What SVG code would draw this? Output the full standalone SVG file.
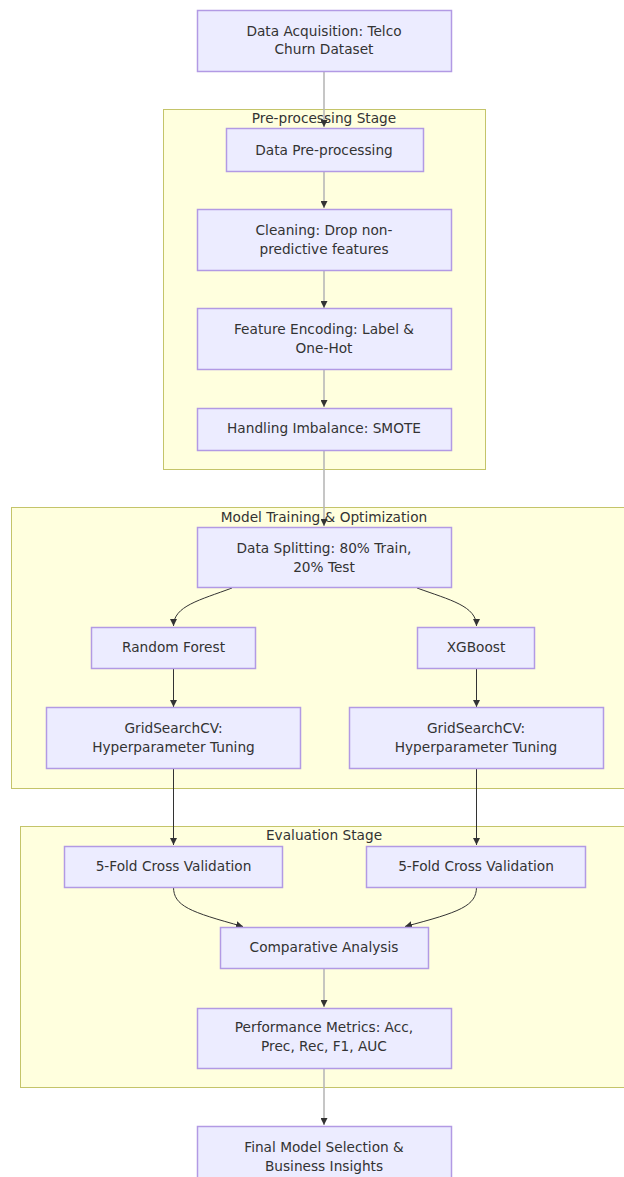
<svg xmlns="http://www.w3.org/2000/svg" width="624" height="1177" viewBox="0 0 624 1177">
<style>
.cl{fill:#ffffde;stroke:#c4c46a;stroke-width:1}
.nd{fill:#ececff;stroke:#b29ae4;stroke-width:1.5}
.t{font-family:"DejaVu Sans",Verdana,sans-serif;font-size:13.7px;fill:#333;text-anchor:middle}
.e{fill:none;stroke:#333;stroke-width:1}
.eg{fill:none;stroke:#b8b8b8;stroke-width:1.6}
</style>
<defs>
<marker id="ah" viewBox="0 0 10 10" refX="10" refY="5" markerWidth="7" markerHeight="7" markerUnits="userSpaceOnUse" orient="auto">
<path d="M0,0 L10,5 L0,10 z" fill="#333"/>
</marker>
</defs>
<rect width="624" height="1177" fill="#fff"/>
<g id="clusters">
<g id="cluster-pre"><rect class="cl" x="163.5" y="109.5" width="322" height="360"/><text class="t" x="324" y="123">Pre-processing Stage</text></g>
<g id="cluster-model"><rect class="cl" x="11.5" y="507.5" width="620" height="281"/><text class="t" x="324" y="522">Model Training &amp; Optimization</text></g>
<g id="cluster-eval"><rect class="cl" x="20.5" y="826.5" width="610" height="261"/><text class="t" x="324" y="840">Evaluation Stage</text></g>
</g>
<g id="edges">
<path class="eg" d="M324,71 L324,127" marker-end="url(#ah)"/>
<path class="eg" d="M324,171 L324,208" marker-end="url(#ah)"/>
<path class="eg" d="M324,270 L324,308" marker-end="url(#ah)"/>
<path class="eg" d="M324,369 L324,407" marker-end="url(#ah)"/>
<path class="eg" d="M324,450 L324,526" marker-end="url(#ah)"/>
<path class="e" d="M232,588 C200,600 173.5,606 173.5,626" marker-end="url(#ah)"/>
<path class="e" d="M417,588 C450,600 476.5,606 476.5,626" marker-end="url(#ah)"/>
<path class="e" d="M173.5,668 L173.5,707" marker-end="url(#ah)"/>
<path class="e" d="M476.5,668 L476.5,707" marker-end="url(#ah)"/>
<path class="e" d="M173.5,768 L173.5,845" marker-end="url(#ah)"/>
<path class="e" d="M476.5,768 L476.5,845" marker-end="url(#ah)"/>
<path class="e" d="M173.5,887 C173.5,906 190,912 243,926.5" marker-end="url(#ah)"/>
<path class="e" d="M476.5,887 C476.5,906 460,912 405,926.5" marker-end="url(#ah)"/>
<path class="eg" d="M324,969 L324,1007" marker-end="url(#ah)"/>
<path class="eg" d="M324,1068 L324,1125" marker-end="url(#ah)"/>
</g>
<g id="n-acq"><rect class="nd" x="197.5" y="10.5" width="254" height="61"/><text class="t" x="324" y="36">Data Acquisition: Telco</text><text class="t" x="324" y="54">Churn Dataset</text></g>
<g id="n-pre"><rect class="nd" x="226.5" y="128.5" width="197" height="43"/><text class="t" x="324" y="155">Data Pre-processing</text></g>
<g id="n-clean"><rect class="nd" x="197.5" y="209.5" width="254" height="61"/><text class="t" x="324" y="235">Cleaning: Drop non-</text><text class="t" x="324" y="254">predictive features</text></g>
<g id="n-enc"><rect class="nd" x="197.5" y="308.5" width="254" height="61"/><text class="t" x="324" y="334">Feature Encoding: Label &amp;</text><text class="t" x="324" y="353">One-Hot</text></g>
<g id="n-smote"><rect class="nd" x="197.5" y="408.5" width="254" height="42"/><text class="t" x="324" y="433">Handling Imbalance: SMOTE</text></g>
<g id="n-split"><rect class="nd" x="197.5" y="527.5" width="254" height="60"/><text class="t" x="324" y="553">Data Splitting: 80% Train,</text><text class="t" x="324" y="572">20% Test</text></g>
<g id="n-rf"><rect class="nd" x="91.5" y="627.5" width="164" height="41"/><text class="t" x="173.5" y="652">Random Forest</text></g>
<g id="n-xgb"><rect class="nd" x="417.5" y="627.5" width="117" height="41"/><text class="t" x="476" y="652">XGBoost</text></g>
<g id="n-gs1"><rect class="nd" x="46.5" y="707.5" width="254" height="61"/><text class="t" x="173.5" y="733">GridSearchCV:</text><text class="t" x="173.5" y="752">Hyperparameter Tuning</text></g>
<g id="n-gs2"><rect class="nd" x="349.5" y="707.5" width="254" height="61"/><text class="t" x="476" y="733">GridSearchCV:</text><text class="t" x="476" y="752">Hyperparameter Tuning</text></g>
<g id="n-cv1"><rect class="nd" x="64.5" y="846.5" width="218" height="41"/><text class="t" x="173.5" y="871">5-Fold Cross Validation</text></g>
<g id="n-cv2"><rect class="nd" x="366.5" y="846.5" width="219" height="41"/><text class="t" x="476" y="871">5-Fold Cross Validation</text></g>
<g id="n-comp"><rect class="nd" x="220.5" y="927.5" width="208" height="41"/><text class="t" x="324" y="952">Comparative Analysis</text></g>
<g id="n-perf"><rect class="nd" x="197.5" y="1008.5" width="254" height="60"/><text class="t" x="324" y="1032">Performance Metrics: Acc,</text><text class="t" x="324" y="1051">Prec, Rec, F1, AUC</text></g>
<g id="n-final"><rect class="nd" x="197.5" y="1126.5" width="254" height="60"/><text class="t" x="324" y="1152">Final Model Selection &amp;</text><text class="t" x="324" y="1171">Business Insights</text></g>
</svg>
